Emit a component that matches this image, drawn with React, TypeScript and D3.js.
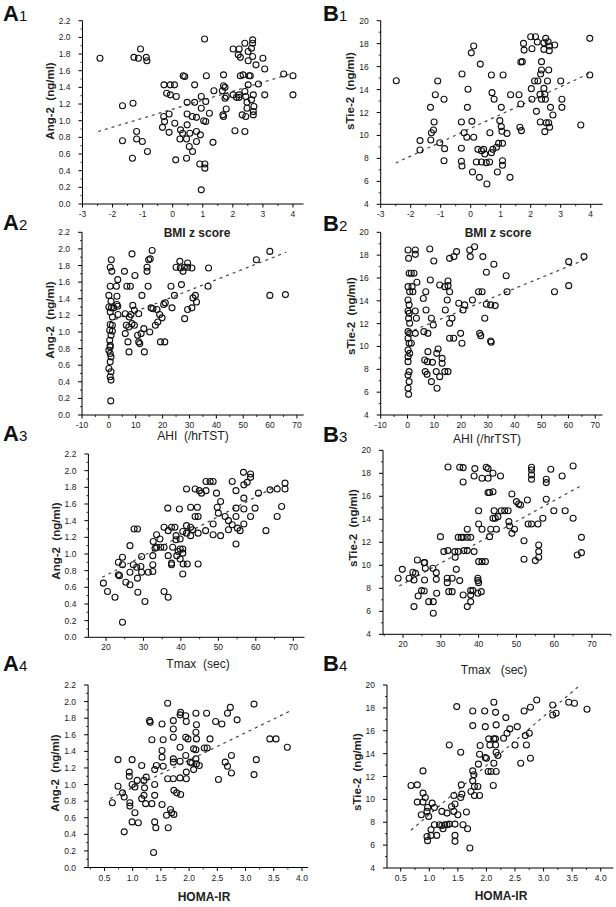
import React from 'react';
import * as d3 from 'd3';

type Pt = [number, number];

// ---------- data ----------
const bmiAng2: Pt[] = [
  [-2.42,1.75],[-1.67,1.18],[-1.32,1.21],[-1.67,0.76],[-1.34,0.55],[-1.29,1.76],[-1.14,1.75],[-1.07,1.86],
  [-0.88,1.76],[-0.86,1.72],[-1.2,0.87],[-1.2,0.78],[-1.01,0.75],[-0.84,0.63],[-0.29,1.43],[-0.08,1.43],
  [0.06,1.43],[-0.2,1.33],[-0.08,1.31],[0.12,1.29],[-0.12,1.08],[-0.3,1.05],[-0.27,0.99],[-0.34,0.92],
  [-0.12,0.86],[0.07,0.97],[0.1,0.53],[0.35,1.54],[0.4,1.53],[0.48,1.22],[0.48,1.08],[0.48,0.95],
  [0.46,0.55],[0.26,0.89],[0.33,0.85],[0.24,0.78],[0.46,0.78],[0.57,0.85],[0.65,1.05],[0.79,1.04],
  [0.73,1.43],[0.73,1.22],[0.55,0.69],[0.66,0.63],[0.79,0.75],[0.79,0.87],[0.92,0.83],[0.95,1.29],
  [0.95,1.15],[1.03,1.0],[1.1,0.99],[1.06,1.98],[1.12,1.54],[1.1,1.23],[0.9,0.48],[1.07,0.48],
  [1.07,0.43],[0.95,0.17],[1.22,1.09],[1.34,0.74],[1.37,1.36],[1.69,1.55],[1.69,1.42],[1.74,1.4],
  [1.65,1.36],[1.78,1.29],[1.74,1.27],[1.78,1.14],[1.67,1.07],[1.69,1.05],[2.01,1.86],[2.21,1.86],
  [2.18,1.79],[2.25,1.76],[2.4,1.93],[2.51,1.83],[2.66,1.93],[2.66,1.97],[2.62,1.87],[2.51,1.72],
  [2.66,1.77],[2.77,1.67],[2.25,1.54],[2.34,1.55],[2.54,1.54],[2.58,1.54],[2.01,1.31],[2.12,1.28],
  [2.21,1.28],[2.21,1.31],[2.51,1.43],[2.4,1.35],[2.43,1.29],[2.47,1.22],[2.47,1.15],[2.31,1.07],
  [2.43,1.05],[2.62,1.25],[2.68,1.31],[2.7,1.17],[2.68,1.11],[2.68,1.07],[2.07,0.88],[2.4,0.87],
  [2.85,1.44],[3.0,1.75],[3.06,1.62],[3.06,1.31],[3.69,1.56],[4.0,1.54],[4.0,1.31],
];

const bmiTie2: Pt[] = [
  [-2.48,14.77],[-1.69,8.73],[-1.69,9.55],[-1.33,9.6],[-1.34,12.45],[-1.22,11.17],[-1.24,10.47],[-1.31,10.24],
  [-1.18,13.55],[-1.1,14.74],[-1.03,9.37],[-0.89,13.15],[-0.87,8.85],[-0.89,7.8],[-0.29,15.35],[-0.31,11.17],
  [-0.22,10.24],[-0.13,9.84],[-0.31,8.88],[-0.31,7.75],[-0.29,7.34],[-0.09,14.02],[-0.11,12.45],[0.02,17.2],
  [0.1,17.79],[0.04,11.23],[0.1,9.84],[0.32,16.22],[0.24,8.79],[0.36,8.67],[0.43,8.79],[0.47,8.38],
  [0.19,7.69],[0.36,7.69],[0.52,7.63],[0.63,7.69],[0.06,6.82],[0.29,6.35],[0.54,5.77],[0.69,15.27],
  [0.71,13.73],[0.78,13.15],[0.64,10.24],[0.69,8.5],[0.74,8.79],[0.86,8.97],[0.93,9.31],[0.97,11.29],
  [1.02,10.77],[1.04,10.36],[1.02,12.45],[1.08,15.27],[1.06,9.31],[1.06,7.8],[1.06,7.4],[0.89,6.82],
  [1.21,10.18],[1.31,6.35],[1.33,13.55],[1.61,13.55],[1.67,12.74],[1.67,16.4],[1.72,16.43],[1.64,10.71],
  [1.69,10.42],[1.76,18.02],[1.78,17.44],[2.0,18.6],[2.02,14.08],[2.04,13.15],[2.16,18.6],[2.22,18.14],
  [2.04,17.56],[2.19,12.1],[2.13,14.74],[2.24,14.74],[2.36,16.43],[2.36,15.7],[2.33,15.35],[2.31,13.58],
  [2.36,13.15],[2.32,11.17],[2.44,18.08],[2.5,18.46],[2.58,18.17],[2.63,17.79],[2.62,17.39],[2.44,17.5],
  [2.8,17.88],[2.44,14.1],[2.47,13.58],[2.49,13.15],[2.56,14.74],[2.6,15.7],[2.47,10.33],[2.52,11.11],
  [2.6,11.11],[2.66,12.45],[2.74,11.78],[2.63,10.71],[3.0,14.74],[3.04,13.15],[3.04,12.45],[3.67,10.91],
  [3.97,18.46],[3.97,15.27],
];

const ahiAng2: Pt[] = [
  [0.7,0.17],[0.9,1.87],[0.5,1.78],[1.1,1.73],[0.5,1.55],[0,1.44],[0.8,1.37],[0,1.3],
  [0.9,1.29],[0.5,1.24],[1.3,1.18],[0.5,1.09],[1.3,1.08],[0.3,1.02],[0.8,0.96],[0.3,0.9],
  [0.5,0.84],[0,0.78],[0.5,0.74],[0.5,0.64],[0,0.56],[0.8,0.52],[0.5,0.46],[0.8,0.42],
  [1.3,1.01],[0.5,0.82],[0.8,0.7],[2.8,1.55],[3.3,1.63],[3.0,1.43],[3.0,1.33],[3.3,1.31],
  [3.4,1.21],[1.8,1.29],[5.8,1.73],[6.7,1.55],[8.0,1.55],[8.6,1.94],[9.7,1.68],[6.1,1.22],
  [6.5,1.08],[6.1,0.98],[7.1,0.88],[7.5,0.76],[7.4,1.06],[7.6,1.18],[8.2,1.21],[8.9,1.32],
  [9.5,1.26],[8.6,1.1],[9.5,1.08],[11.1,1.22],[10.7,0.96],[11.1,0.88],[11.5,0.86],[12.0,0.98],
  [12.3,1.44],[13.0,1.04],[13.2,0.76],[14.2,1.73],[14.2,1.78],[14.6,1.55],[14.8,1.87],[15.4,1.88],
  [16.1,1.98],[15.2,1.0],[15.7,1.29],[16.4,1.28],[17.3,1.08],[17.9,1.27],[18.2,1.12],[18.9,1.21],
  [19.2,0.88],[19.8,1.17],[20.4,1.33],[20.8,0.88],[21.0,1.35],[23.1,1.55],[23.5,1.29],[24.4,1.44],
  [25.0,1.78],[26.4,1.85],[26.6,1.77],[27.0,1.57],[27.6,1.73],[28.1,1.78],[28.2,1.16],[29.3,1.83],
  [29.3,1.78],[29.3,1.27],[30.9,1.77],[30.9,1.29],[31.3,1.41],[32.2,1.44],[32.6,1.36],[37.1,1.77],
  [36.9,1.55],[54.9,1.87],[59.9,1.97],[59.9,1.44],[65.7,1.45],
];

const ahiTie2: Pt[] = [
  [0.2,18.45],[0.4,17.72],[0.6,16.41],[0.2,15.24],[0.8,14.8],[0.2,14.07],[0.6,13.64],[0.2,13.11],
  [0.4,12.47],[0.2,11.3],[0.8,11.15],[0.2,10.72],[0.6,10.28],[0.2,9.69],[0.8,9.4],[0.2,8.67],
  [0.6,7.8],[0.2,7.5],[0.6,6.92],[0.2,6.34],[0.4,5.81],[0.2,9.11],[0.8,12.03],[0.6,12.9],
  [1.4,16.41],[1.7,15.24],[2.4,16.41],[2.0,14.8],[2.9,18.45],[2.9,18.07],[3.5,15.62],[2.9,13.11],
  [3.3,12.47],[2.9,11.15],[1.4,10.28],[6.9,13.2],[5.9,14.2],[6.8,14.8],[6.1,11.3],[7.6,11.15],
  [8.3,18.54],[9.8,17.49],[8.5,15.82],[8.9,12.47],[9.6,11.88],[6.4,8.82],[7.4,8.67],[7.6,9.55],
  [6.6,7.8],[7.3,7.56],[8.9,6.92],[9.3,8.61],[10.9,9.4],[11.4,9.78],[10.7,7.8],[12.0,7.36],
  [12.9,8.96],[12.9,8.53],[11.0,6.34],[13.9,7.8],[15.1,7.8],[12.0,15.39],[13.9,15.24],[14.1,13.2],
  [14.8,14.07],[15.1,15.74],[15.1,15.33],[15.7,14.8],[15.7,12.03],[16.6,12.47],[15.7,17.72],[17.3,17.87],
  [18.3,18.31],[15.7,10.72],[17.2,10.72],[19.1,13.78],[19.8,11.15],[20.3,10.28],[20.7,13.2],[21.3,13.64],
  [23.2,18.45],[23.4,17.87],[25.0,18.74],[24.2,14.07],[26.9,11.15],[27.3,10.95],[26.5,14.8],[27.8,14.8],
  [28.1,17.87],[28.8,12.47],[29.4,16.5],[29.4,13.7],[31.0,13.64],[32.7,13.58],[31.0,10.48],[31.2,10.37],
  [32.2,17.2],[36.8,16.2],[37.1,14.8],[54.8,14.8],[60.1,17.43],[60.1,15.33],[65.8,17.87],
];

const tmaxAng2: Pt[] = [
  [19.3,0.65],[20.4,0.55],[22.4,0.48],[24.4,0.18],[23.3,0.75],[23.6,0.74],[23.3,0.9],[24.4,0.96],
  [24.4,0.87],[25.3,0.66],[26.4,0.63],[26.4,0.78],[26.4,1.1],[27.3,0.87],[27.5,1.3],[28.4,1.3],
  [28.2,0.84],[28.4,0.71],[28.5,0.54],[29.3,0.85],[29.5,0.97],[29.5,0.78],[30.4,0.43],[31.3,0.78],
  [32.5,0.79],[32.5,0.87],[32.5,0.98],[32.6,1.15],[33.1,1.07],[33.5,1.23],[33.5,1.08],[34.4,1.18],
  [34.6,1.08],[35.5,1.08],[35.5,1.32],[35.5,0.55],[36.6,0.48],[36.5,1.55],[36.6,1.28],[36.6,0.98],
  [37.5,1.32],[37.8,1.08],[37.5,0.89],[37.5,0.87],[38.4,1.32],[38.7,1.22],[38.7,1.17],[38.9,0.98],
  [39.3,1.03],[39.6,1.54],[39.8,1.18],[39.8,1.06],[39.8,0.94],[40.5,1.27],[40.5,1.06],[40.5,1.01],
  [40.6,0.88],[40.5,0.76],[41.5,1.78],[41.5,1.34],[41.5,1.25],[41.7,0.88],[42.6,1.56],[42.6,1.32],
  [42.6,1.22],[43.1,1.29],[43.8,1.78],[43.8,1.45],[44.4,1.56],[44.6,1.45],[44.6,1.25],[44.6,0.88],
  [44.9,1.76],[45.5,1.73],[46.6,1.28],[46.7,1.76],[46.7,1.87],[47.8,1.87],[48.6,1.87],[48.6,1.36],
  [48.6,1.23],[49.5,1.73],[49.7,1.56],[50.0,1.49],[50.6,1.63],[50.6,1.22],[51.8,1.45],[52.7,1.29],
  [52.7,1.4],[53.7,1.87],[53.7,1.35],[54.7,1.76],[54.7,1.55],[54.7,1.45],[54.7,1.12],[55.1,1.31],
  [55.8,1.28],[56.7,1.98],[56.8,1.83],[56.8,1.67],[56.8,1.54],[56.8,1.36],[57.7,1.86],[58.6,1.96],
  [58.6,1.92],[58.6,1.45],[59.8,1.55],[60.7,1.73],[62.7,1.28],[63.8,1.77],[65.7,1.78],[65.7,1.45],
  [66.9,1.57],[67.8,1.85],[67.8,1.78],
];

const tmaxTie2: Pt[] = [
  [18.7,8.87],[19.8,9.65],[21.6,8.87],[22.6,9.39],[22.9,8.72],[23.3,9.3],[22.9,6.41],[23.8,10.46],
  [24.0,7.33],[25.6,10.23],[25.7,10.23],[25.7,8.72],[25.9,9.74],[24.9,7.8],[25.6,7.77],[26.8,6.84],
  [28.0,6.84],[28.0,5.83],[27.9,9.74],[28.8,9.36],[28.8,8.78],[28.9,7.57],[29.9,12.49],[31.9,18.55],
  [30.8,11.19],[31.9,11.28],[31.7,8.87],[31.7,8.49],[32.1,7.71],[33.0,8.87],[33.0,7.71],[33.7,11.19],
  [33.8,10.7],[34.6,11.19],[34.1,9.65],[35.0,8.67],[35.0,18.52],[34.6,12.43],[35.4,12.43],[35.9,12.43],
  [36.1,11.28],[35.9,18.49],[35.9,17.25],[35.9,7.42],[37.0,12.43],[37.0,13.13],[37.0,11.28],[37.9,12.43],
  [37.0,6.41],[37.9,7.8],[37.9,7.42],[38.5,7.8],[37.9,6.84],[38.8,11.19],[38.8,17.77],[39.0,18.41],
  [39.8,8.87],[39.8,8.67],[40.0,8.49],[39.8,7.57],[40.7,7.71],[40.0,14.75],[40.0,13.59],[40.0,10.32],
  [40.9,10.32],[40.9,13.13],[40.9,17.57],[41.8,10.32],[42.0,18.52],[42.5,16.33],[42.5,17.57],[42.5,18.41],
  [42.9,12.49],[42.9,16.33],[43.2,13.13],[43.8,18.0],[43.8,16.4],[44.1,14.75],[43.8,14.09],[44.4,14.09],
  [44.7,13.13],[45.1,14.23],[45.8,17.77],[46.0,14.75],[46.9,14.75],[47.8,14.75],[48.0,13.8],[48.2,13.42],
  [48.8,12.78],[48.8,16.2],[49.5,13.13],[50.0,15.54],[50.6,15.33],[51.1,15.25],[52.0,12.14],[52.0,10.52],
  [52.9,15.68],[53.1,13.59],[54.0,13.59],[54.0,18.52],[54.0,18.29],[54.0,17.86],[54.0,17.48],[55.0,10.41],
  [55.7,13.59],[55.9,11.77],[55.9,11.19],[55.9,10.7],[57.0,14.09],[57.9,17.48],[57.9,17.19],[57.9,15.74],
  [59.1,18.35],[59.9,14.75],[62.1,17.77],[62.9,14.75],[65.0,18.64],[65.0,14.09],[66.1,10.9],[67.2,11.1],
  [67.2,12.43],
];

const homaAng2: Pt[] = [
  [0.64,0.78],[0.74,0.98],[0.74,1.3],[0.82,0.9],[0.85,0.85],[0.85,0.43],[0.94,1.15],[0.94,1.1],
  [0.95,0.78],[0.95,0.74],[0.99,1.3],[0.99,1.0],[1.04,0.97],[1.04,0.66],[0.99,0.55],[1.1,0.54],
  [1.08,1.05],[1.16,1.23],[1.16,0.83],[1.2,1.05],[1.21,0.96],[1.23,0.77],[1.24,1.09],[1.2,0.87],
  [1.3,1.77],[1.31,1.75],[1.34,1.54],[1.34,0.77],[1.37,0.18],[1.39,1.18],[1.39,1.0],[1.39,0.87],
  [1.39,0.55],[1.41,0.48],[1.42,1.23],[1.52,1.73],[1.52,1.41],[1.52,1.33],[1.54,1.54],[1.54,1.22],
  [1.52,0.76],[1.6,0.63],[1.62,1.98],[1.62,1.07],[1.63,0.48],[1.67,0.7],[1.69,0.66],[1.73,0.64],
  [1.72,1.77],[1.72,1.67],[1.72,1.57],[1.72,1.31],[1.72,1.27],[1.72,1.07],[1.73,0.93],[1.78,0.9],
  [1.84,1.84],[1.85,1.87],[1.84,1.45],[1.84,1.28],[1.84,1.08],[1.85,0.88],[1.94,1.83],[1.95,1.76],
  [1.94,1.57],[1.98,1.55],[1.94,1.35],[1.95,1.15],[1.95,1.07],[2.02,1.27],[2.05,1.26],[2.08,1.43],
  [2.08,1.18],[2.12,1.86],[2.12,1.63],[2.13,1.72],[2.13,1.55],[2.12,1.42],[2.12,1.31],[2.13,1.25],
  [2.18,1.23],[2.27,1.44],[2.31,1.86],[2.32,1.44],[2.37,1.55],[2.47,1.76],[2.58,1.73],[2.52,1.06],
  [2.64,1.27],[2.68,1.22],[2.68,1.86],[2.73,1.93],[2.75,1.35],[2.75,1.14],[2.85,1.78],[3.15,1.97],
  [3.15,1.12],[3.19,1.3],[3.43,1.55],[3.54,1.55],[3.74,1.45],
];

const homaTie2: Pt[] = [
  [0.68,11.21],[0.79,11.27],[0.79,9.76],[0.89,12.49],[0.89,10.55],[0.86,8.65],[0.89,9.76],[0.93,10.17],
  [0.97,9.29],[0.96,8.95],[0.99,8.51],[0.96,6.76],[0.97,6.39],[1.03,6.85],[1.03,7.35],[1.05,9.67],
  [1.09,9.29],[1.09,7.78],[1.13,6.85],[1.18,7.78],[1.22,8.95],[1.22,7.72],[1.24,7.43],[1.27,7.78],
  [1.31,7.78],[1.31,8.8],[1.35,7.84],[1.35,14.76],[1.39,9.38],[1.43,10.34],[1.45,9.59],[1.43,8.95],
  [1.45,7.84],[1.45,6.85],[1.45,6.33],[1.5,8.65],[1.48,18.11],[1.55,14.12],[1.55,10.17],[1.56,11.27],
  [1.57,10.46],[1.59,7.78],[1.65,8.89],[1.67,7.43],[1.71,5.75],[1.73,10.69],[1.76,17.73],[1.76,16.45],
  [1.76,12.49],[1.78,12.15],[1.76,11.62],[1.79,11.13],[1.79,10.34],[1.85,11.13],[1.88,10.34],[1.86,13.08],
  [1.88,13.95],[1.89,14.71],[1.97,17.73],[1.98,16.36],[1.98,13.66],[2.0,13.6],[2.03,12.44],[2.04,15.29],
  [2.06,14.76],[2.08,12.44],[2.12,11.21],[2.13,18.49],[2.13,15.29],[2.13,13.16],[2.16,17.61],[2.17,16.51],
  [2.16,14.76],[2.17,14.12],[2.16,15.29],[2.17,12.44],[2.2,13.83],[2.3,15.35],[2.34,17.15],[2.36,15.78],
  [2.41,16.16],[2.5,14.76],[2.54,16.36],[2.6,13.16],[2.66,17.73],[2.68,15.58],[2.7,14.76],[2.75,15.78],
  [2.77,18.05],[2.77,13.6],[2.88,18.69],[3.16,18.25],[3.16,17.38],[3.22,17.53],[3.44,18.49],[3.54,18.4],
  [3.76,17.88],
];

// regression line end points
const fitBmiAng2: Pt[] = [[-2.48, 0.87], [4.0, 1.57]];
const fitBmiTie2: Pt[] = [[-2.5, 7.6], [3.95, 15.4]];
const fitAhiAng2: Pt[] = [[0, 1.12], [66, 1.96]];
const fitAhiTie2: Pt[] = [[0, 11.2], [66, 17.6]];
const fitTmaxAng2: Pt[] = [[19, 0.72], [67, 1.85]];
const fitTmaxTie2: Pt[] = [[19, 8.2], [67, 16.9]];
const fitHomaAng2: Pt[] = [[0.6, 0.83], [3.77, 1.88]];
const fitHomaTie2: Pt[] = [[0.68, 7.3], [3.64, 20]];

// tick labels
const ang2Ticks = [0, 0.2, 0.4, 0.6, 0.8, 1.0, 1.2, 1.4, 1.6, 1.8, 2.0, 2.2];
const tie2Ticks = [4, 6, 8, 10, 12, 14, 16, 18, 20];
const bmiTicks = [-3, -2, -1, 0, 1, 2, 3, 4];
const ahiTicks = [-10, 0, 10, 20, 30, 40, 50, 60, 70];
const tmaxTicks = [20, 30, 40, 50, 60, 70];
const homaTicks = [0.5, 1.0, 1.5, 2.0, 2.5, 3.0, 3.5, 4.0];

const FONT = "'Liberation Sans', Arial, Helvetica, sans-serif";

interface PanelDef {
  letter: string; num: string; labelX: number; labelY: number;
  data: Pt[]; fit: Pt[];
  xDomain: [number, number]; xRange: [number, number];
  yDomain: [number, number]; yRange: [number, number];
  xTicks: number[]; yTicks: number[]; xFmt: (v: number) => string; yFmt: (v: number) => string;
  xTitle: string; xTitleX: number; xTitleY: number; xBold: boolean;
  yTitle: string; yTitleX: number; yTitleY: number;
}

const f1 = d3.format('.1f');
const fInt = (v: number) => String(v);

const panels: PanelDef[] = [
  { letter: 'A', num: '1', labelX: 3, labelY: 21, data: bmiAng2, fit: fitBmiAng2,
    xDomain: [-3, 4.35], xRange: [82.5, 303.5], yDomain: [0, 2.2], yRange: [204, 20.7],
    xTicks: bmiTicks, yTicks: ang2Ticks, xFmt: fInt, yFmt: f1,
    xTitle: 'BMI z score', xTitleX: 197, xTitleY: 237, xBold: true,
    yTitle: 'Ang-2  (ng/ml)', yTitleX: 54, yTitleY: 101 },
  { letter: 'B', num: '1', labelX: 323, labelY: 21, data: bmiTie2, fit: fitBmiTie2,
    xDomain: [-3, 4.4], xRange: [380.7, 602.7], yDomain: [4, 20], yRange: [204.3, 20.7],
    xTicks: bmiTicks, yTicks: tie2Ticks, xFmt: fInt, yFmt: fInt,
    xTitle: 'BMI z score', xTitleX: 498, xTitleY: 237, xBold: true,
    yTitle: 'sTie-2  (ng/ml)', yTitleX: 354, yTitleY: 91 },
  { letter: 'A', num: '2', labelX: 3, labelY: 230, data: ahiAng2, fit: fitAhiAng2,
    xDomain: [-10, 72.5], xRange: [82, 303.7], yDomain: [0, 2.2], yRange: [415, 232.3],
    xTicks: ahiTicks, yTicks: ang2Ticks, xFmt: fInt, yFmt: f1,
    xTitle: 'AHI  (/hrTST)', xTitleX: 193, xTitleY: 440, xBold: false,
    yTitle: 'Ang-2  (ng/ml)', yTitleX: 54, yTitleY: 320 },
  { letter: 'B', num: '2', labelX: 323, labelY: 231, data: ahiTie2, fit: fitAhiTie2,
    xDomain: [-10, 72.7], xRange: [380.7, 602.5], yDomain: [4, 20], yRange: [415, 232.3],
    xTicks: ahiTicks, yTicks: tie2Ticks, xFmt: fInt, yFmt: fInt,
    xTitle: 'AHI (/hrTST)', xTitleX: 487, xTitleY: 443, xBold: false,
    yTitle: 'sTie-2  (ng/ml)', yTitleX: 355, yTitleY: 316 },
  { letter: 'A', num: '3', labelX: 3, labelY: 441, data: tmaxAng2, fit: fitTmaxAng2,
    xDomain: [15.3, 73], xRange: [88.4, 304.5], yDomain: [0, 2.2], yRange: [637.3, 454],
    xTicks: tmaxTicks, yTicks: ang2Ticks, xFmt: fInt, yFmt: f1,
    xTitle: 'Tmax  (sec)', xTitleX: 198, xTitleY: 668, xBold: false,
    yTitle: 'Ang-2  (ng/ml)', yTitleX: 60, yTitleY: 541 },
  { letter: 'B', num: '3', labelX: 323, labelY: 442, data: tmaxTie2, fit: fitTmaxTie2,
    xDomain: [14.7, 75], xRange: [383, 610.9], yDomain: [4, 20], yRange: [634.3, 450.3],
    xTicks: tmaxTicks, yTicks: tie2Ticks, xFmt: fInt, yFmt: fInt,
    xTitle: 'Tmax   (sec)', xTitleX: 494, xTitleY: 674, xBold: false,
    yTitle: 'sTie-2  (ng/ml)', yTitleX: 357, yTitleY: 528 },
  { letter: 'A', num: '4', labelX: 3, labelY: 671, data: homaAng2, fit: fitHomaAng2,
    xDomain: [0.21, 4.11], xRange: [88.1, 308.2], yDomain: [0, 2.2], yRange: [867.5, 685],
    xTicks: homaTicks, yTicks: ang2Ticks, xFmt: f1, yFmt: f1,
    xTitle: 'HOMA-IR', xTitleX: 204, xTitleY: 901, xBold: true,
    yTitle: 'Ang-2  (ng/ml)', yTitleX: 59, yTitleY: 773 },
  { letter: 'B', num: '4', labelX: 323, labelY: 671, data: homaTie2, fit: fitHomaTie2,
    xDomain: [0.26, 4.22], xRange: [387, 613.3], yDomain: [4, 20], yRange: [868, 685],
    xTicks: homaTicks, yTicks: tie2Ticks, xFmt: f1, yFmt: fInt,
    xTitle: 'HOMA-IR', xTitleX: 501, xTitleY: 900, xBold: true,
    yTitle: 'sTie-2  (ng/ml)', yTitleX: 361, yTitleY: 772 },
];

function minorTicks(major: number[], domain: [number, number]): number[] {
  const step = major[1] - major[0];
  const out: number[] = [];
  for (let i = -1; i < major.length; i++) {
    const v = major[0] + (i + 0.5) * step;
    if (v >= domain[0] - 1e-9 && v <= domain[1] + 1e-9) out.push(v);
  }
  return out;
}

const Panel: React.FC<{ p: PanelDef }> = ({ p }) => {
  const x = d3.scaleLinear().domain(p.xDomain).range(p.xRange);
  const y = d3.scaleLinear().domain(p.yDomain).range(p.yRange);
  const x0 = p.xRange[0];
  const y0 = p.yRange[0];
  const line = d3.line<Pt>().x(d => x(d[0])).y(d => y(d[1]));
  const xMinor = minorTicks(p.xTicks, p.xDomain);
  const yMinor = minorTicks(p.yTicks, p.yDomain);
  return (
    <g>
      <text x={p.labelX} y={p.labelY} fontFamily={FONT} fill="#111">
        <tspan fontSize={22} fontWeight="bold">{p.letter}</tspan>
        <tspan fontSize={15}>{p.num}</tspan>
      </text>
      {/* regression line */}
      <path d={line(p.fit) || ''} fill="none" stroke="#444" strokeWidth={1.2} strokeDasharray="3,4" />
      {/* points */}
      {p.data.map((d, i) => (
        <circle key={i} cx={x(d[0])} cy={y(d[1])} r={3} fill="none" stroke="#111" strokeWidth={1.1} />
      ))}
      {/* axes */}
      <line x1={x0} x2={x0} y1={y0} y2={p.yRange[1]} stroke="#000" strokeWidth={1} />
      <line x1={x0} x2={p.xRange[1]} y1={y0} y2={y0} stroke="#000" strokeWidth={1} />
      {p.yTicks.map(t => (
        <g key={'yt' + t}>
          <line x1={x0 - 4} x2={x0} y1={y(t)} y2={y(t)} stroke="#000" strokeWidth={1} />
          <text x={x0 - 12} y={y(t) + 3} textAnchor="end"
            fontSize={8.5} fontFamily={FONT} fill="#222">{p.yFmt(t)}</text>
        </g>
      ))}
      {yMinor.map(t => (
        <line key={'ym' + t} x1={x0 - 2} x2={x0} y1={y(t)} y2={y(t)} stroke="#000" strokeWidth={0.8} />
      ))}
      {p.xTicks.map(t => (
        <g key={'xt' + t}>
          <line x1={x(t)} x2={x(t)} y1={y0} y2={y0 + 3.5} stroke="#000" strokeWidth={1} />
          <text x={x(t)} y={y0 + 13} textAnchor="middle"
            fontSize={8.5} fontFamily={FONT} fill="#222">{p.xFmt(t)}</text>
        </g>
      ))}
      {xMinor.map(t => (
        <line key={'xm' + t} x1={x(t)} x2={x(t)} y1={y0} y2={y0 + 2} stroke="#000" strokeWidth={0.8} />
      ))}
      {/* titles */}
      <text x={p.xTitleX} y={p.xTitleY} textAnchor="middle" fontSize={12} fontFamily={FONT}
        fontWeight={p.xBold ? 'bold' : 'normal'} fill="#222" style={{ whiteSpace: 'pre' }}>{p.xTitle}</text>
      <text transform={`translate(${p.yTitleX},${p.yTitleY}) rotate(-90)`} textAnchor="middle"
        fontSize={11.5} fontWeight="bold" fontFamily={FONT} fill="#222" style={{ whiteSpace: 'pre' }}>{p.yTitle}</text>
    </g>
  );
};

export default function App() {
  return (
    <svg width={616} height={907} viewBox="0 0 616 907"
      style={{ position: 'absolute', left: 0, top: 0, background: '#fff' }}>
      <rect x={0} y={0} width={616} height={907} fill="#fff" />
      {panels.map((p, i) => <Panel key={i} p={p} />)}
    </svg>
  );
}
